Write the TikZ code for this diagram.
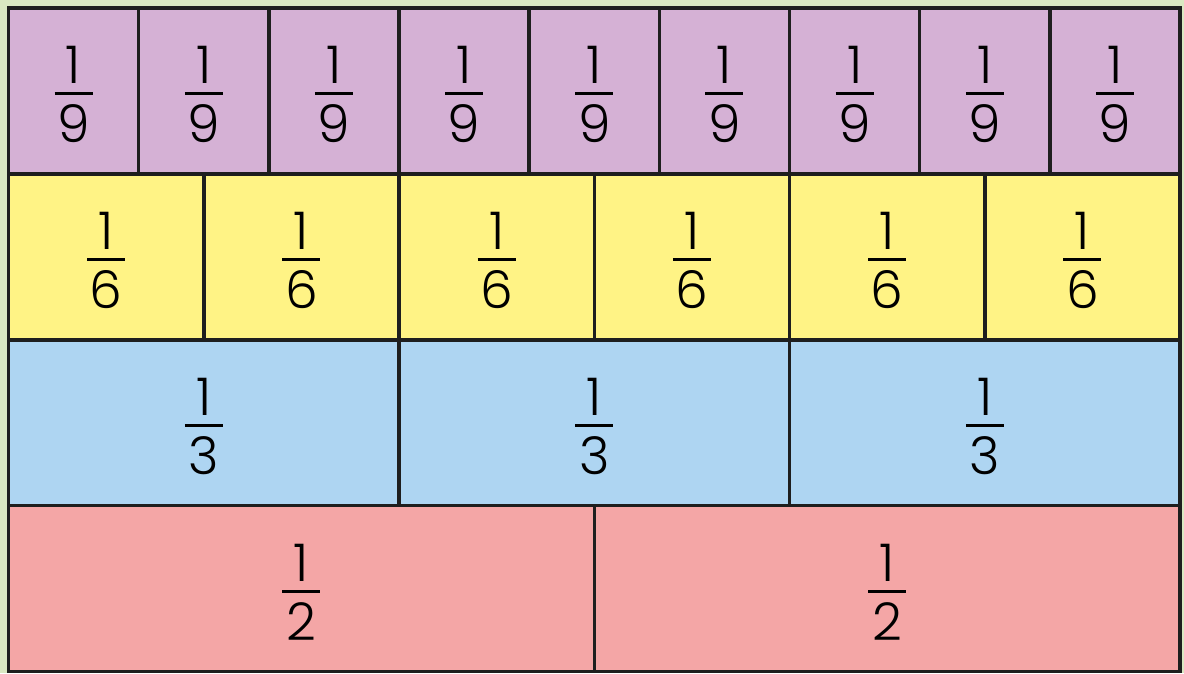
\documentclass[tikz,border=0pt]{standalone}
\usepackage{fontspec}
\setmainfont{Poppins}[UprightFont=* Light]
\usepackage{tikz}
\usetikzlibrary{positioning}
\definecolor{bgGreen}{HTML}{DAE8C2}
\definecolor{rowNinth}{HTML}{D5B1D5}
\definecolor{rowSixth}{HTML}{FFF385}
\definecolor{rowThird}{HTML}{AED5F2}
\definecolor{rowHalf}{HTML}{F4A6A6}
\definecolor{edge}{HTML}{1E1E1E}
\newcommand{\unitfr}[1]{\rule{0pt}{45pt}1\\[-41pt]\rule{38pt}{3pt}\\[-4pt]#1}

\begin{document}
\begin{tikzpicture}[x=1pt, y=1pt, cell/.style={draw=edge, line width=3.5pt, outer sep=0pt, inner sep=0pt, minimum height=165.9pt, align=center, font=\fontsize{52}{52}\selectfont}]
\fill[bgGreen] (0,0) rectangle (1184,673);
\useasboundingbox (0,0) rectangle (1184,673);
% ninths
\node[cell, minimum width=130.17pt, fill=rowNinth, anchor=north west] (ninth1) at (8.5,665) {\unitfr{9}};
\node[cell, minimum width=130.17pt, fill=rowNinth, right=0pt of ninth1] (ninth2) {\unitfr{9}};
\node[cell, minimum width=130.17pt, fill=rowNinth, right=0pt of ninth2] (ninth3) {\unitfr{9}};
\node[cell, minimum width=130.17pt, fill=rowNinth, right=0pt of ninth3] (ninth4) {\unitfr{9}};
\node[cell, minimum width=130.17pt, fill=rowNinth, right=0pt of ninth4] (ninth5) {\unitfr{9}};
\node[cell, minimum width=130.17pt, fill=rowNinth, right=0pt of ninth5] (ninth6) {\unitfr{9}};
\node[cell, minimum width=130.17pt, fill=rowNinth, right=0pt of ninth6] (ninth7) {\unitfr{9}};
\node[cell, minimum width=130.17pt, fill=rowNinth, right=0pt of ninth7] (ninth8) {\unitfr{9}};
\node[cell, minimum width=130.17pt, fill=rowNinth, right=0pt of ninth8] (ninth9) {\unitfr{9}};
% sixths
\node[cell, minimum width=195.25pt, fill=rowSixth, below=0pt of ninth1.south west, anchor=north west] (sixth1) {\unitfr{6}};
\node[cell, minimum width=195.25pt, fill=rowSixth, right=0pt of sixth1] (sixth2) {\unitfr{6}};
\node[cell, minimum width=195.25pt, fill=rowSixth, right=0pt of sixth2] (sixth3) {\unitfr{6}};
\node[cell, minimum width=195.25pt, fill=rowSixth, right=0pt of sixth3] (sixth4) {\unitfr{6}};
\node[cell, minimum width=195.25pt, fill=rowSixth, right=0pt of sixth4] (sixth5) {\unitfr{6}};
\node[cell, minimum width=195.25pt, fill=rowSixth, right=0pt of sixth5] (sixth6) {\unitfr{6}};
% thirds
\node[cell, minimum width=390.5pt, fill=rowThird, below=0pt of sixth1.south west, anchor=north west] (third1) {\unitfr{3}};
\node[cell, minimum width=390.5pt, fill=rowThird, right=0pt of third1] (third2) {\unitfr{3}};
\node[cell, minimum width=390.5pt, fill=rowThird, right=0pt of third2] (third3) {\unitfr{3}};
% halves
\node[cell, minimum width=585.75pt, fill=rowHalf, below=0pt of third1.south west, anchor=north west] (half1) {\unitfr{2}};
\node[cell, minimum width=585.75pt, fill=rowHalf, right=0pt of half1] (half2) {\unitfr{2}};
\end{tikzpicture}
\end{document}
